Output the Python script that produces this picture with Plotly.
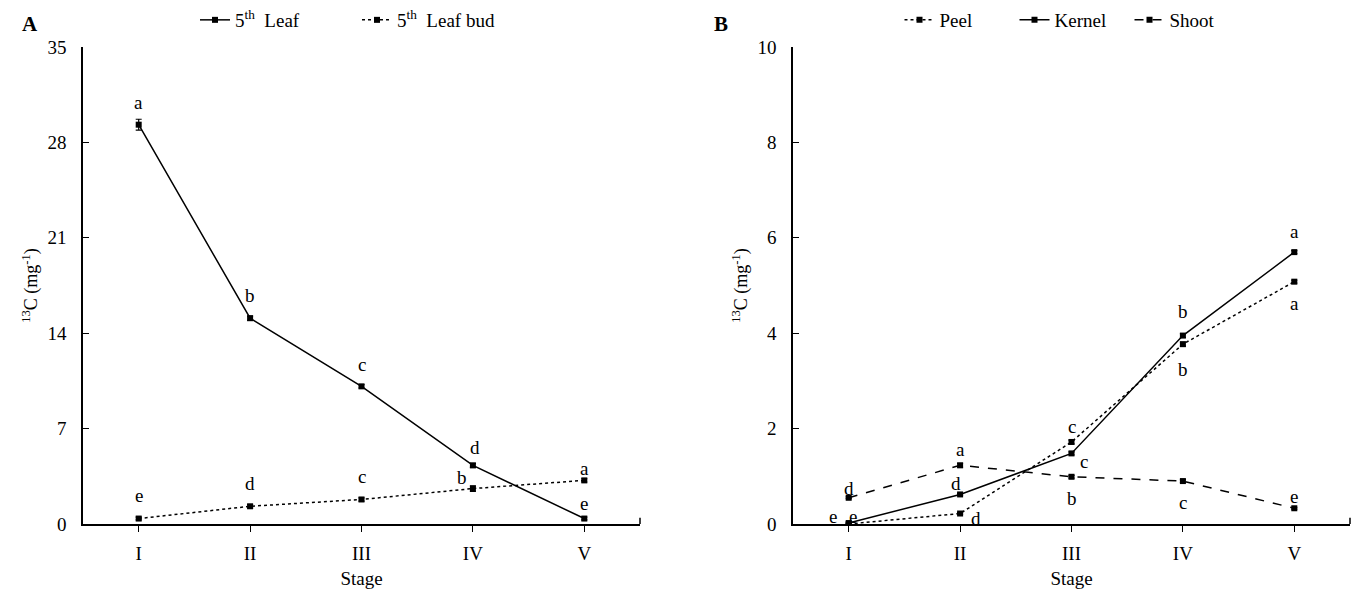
import plotly.graph_objects as go

stages = ["I", "II", "III", "IV", "V"]
xpos = [0, 1, 2, 3, 4]

# Panel A
leaf = [29.3, 15.1, 10.1, 4.3, 0.4]
leaf_err = [0.4, 0.15, 0.12, 0.15, 0.1]
leaf_letters = ["a", "b", "c", "d", "e"]
bud = [0.4, 1.3, 1.8, 2.6, 3.2]
bud_err = [0.1, 0.12, 0.12, 0.2, 0.12]
bud_letters = ["e", "d", "c", "b", "a"]

# Panel B
peel = [0.0, 0.22, 1.72, 3.77, 5.08]
peel_err = [0.01, 0.02, 0.04, 0.04, 0.03]
peel_letters = ["e", "d", "c", "b", "a"]
kernel = [0.02, 0.62, 1.48, 3.95, 5.70]
kernel_err = [0.01, 0.02, 0.03, 0.04, 0.03]
kernel_letters = ["e", "d", "c", "b", "a"]
shoot = [0.55, 1.23, 0.99, 0.90, 0.33]
shoot_err = [0.02, 0.04, 0.03, 0.03, 0.02]
shoot_letters = ["d", "a", "b", "c", "e"]

FONT = "Liberation Serif, Times New Roman, serif"
BLK = "black"

fig = go.Figure()

def add(y, err, name, dash, xa, ya, legend):
    fig.add_trace(go.Scatter(
        x=xpos, y=y, name=name, mode="lines+markers",
        line=dict(color=BLK, width=1.5, dash=dash),
        marker=dict(symbol="square", size=6, color=BLK),
        error_y=dict(type="data", array=err, visible=True, color=BLK, thickness=1.2, width=3),
        xaxis=xa, yaxis=ya, legend=legend))

add(leaf, leaf_err, "5<sup>th</sup>  Leaf", "solid", "x", "y", "legend")
add(bud, bud_err, "5<sup>th</sup>  Leaf bud", "dot", "x", "y", "legend")
add(peel, peel_err, "Peel", "dot", "x2", "y2", "legend2")
add(kernel, kernel_err, "Kernel", "solid", "x2", "y2", "legend2")
add(shoot, shoot_err, "Shoot", "dash", "x2", "y2", "legend2")

ann = []
def letters(vals, labs, shifts, xr, yr):
    for i, (v, t, s) in enumerate(zip(vals, labs, shifts)):
        ann.append(dict(x=xpos[i], y=v, text=t, xref=xr, yref=yr, showarrow=False,
                        xshift=s[0], yshift=s[1], font=dict(family=FONT, size=19, color=BLK)))

letters(leaf, leaf_letters, [(0, 22), (0, 23), (0, 22), (2, 18), (0, 15)], "x", "y")
letters(bud, bud_letters, [(0, 23), (0, 23), (0, 23), (-11, 11), (0, 12)], "x", "y")
letters(peel, peel_letters, [(-16, 8), (16, -5), (0, 15), (0, -25), (0, -22)], "x2", "y2")
letters(kernel, kernel_letters, [(4, 7), (-4, 11), (12, -8), (0, 24), (0, 21)], "x2", "y2")
letters(shoot, shoot_letters, [(0, 9), (0, 16), (0, -22), (0, -21), (0, 12)], "x2", "y2")

ann.append(dict(x=20 / 1364, y=1 - 10 / 591, xref="paper", yref="paper", text="<b>A</b>",
                showarrow=False, font=dict(family=FONT, size=21, color=BLK)))
ann.append(dict(x=721 / 1364, y=1 - 10 / 591, xref="paper", yref="paper", text="<b>B</b>",
                showarrow=False, font=dict(family=FONT, size=21, color=BLK)))

xdomA = [83 / 1364, 640 / 1364]
xdomB = [793 / 1364, 1350 / 1364]
ydom = [1 - 524 / 591, 1 - 47 / 591]

def xaxis(dom, anchor):
    return dict(domain=dom, anchor=anchor, range=[-0.5, 4.5], tickvals=xpos, ticktext=stages,
                showline=True, linecolor=BLK, linewidth=1.5, ticks="outside", ticklen=6,
                tickcolor=BLK, showgrid=False, zeroline=False, ticklabelstandoff=5,
                title=dict(text="Stage", font=dict(family=FONT, size=19, color=BLK), standoff=9),
                tickfont=dict(family=FONT, size=19, color=BLK))

def yaxis(rng, dtick, anchor):
    return dict(domain=ydom, anchor=anchor, range=rng, dtick=dtick, showline=True, linecolor=BLK,
                linewidth=1.5, ticks="inside", ticklen=6, tickcolor=BLK, showgrid=False,
                zeroline=False, ticklabelstandoff=11,
                title=dict(text="<sup>13</sup>C (mg<sup>-1</sup>)", font=dict(family=FONT, size=18, color=BLK), standoff=5),
                tickfont=dict(family=FONT, size=19, color=BLK))

leg = dict(orientation="h", xanchor="center", yanchor="middle", bgcolor="rgba(0,0,0,0)",
           font=dict(family=FONT, size=19, color=BLK), itemwidth=30, tracegroupgap=0)

# small upward end-tick at the right end of each x axis (axis decoration)
shapes = [dict(type="line", xref=f"{xa} domain", yref=f"{ya} domain", x0=1, x1=1, y0=0, y1=0.013,
               line=dict(color=BLK, width=1.5)) for xa, ya in (("x", "y"), ("x2", "y2"))]

fig.update_layout(
    width=1364, height=591, paper_bgcolor="white", plot_bgcolor="white",
    margin=dict(l=0, r=0, t=0, b=0, autoexpand=False),
    xaxis=xaxis(xdomA, "y"), yaxis=yaxis([0, 35], 7, "x"),
    xaxis2=xaxis(xdomB, "y2"), yaxis2=yaxis([0, 10], 2, "x2"),
    legend=dict(leg, x=357 / 1364, y=1 - 20 / 591, entrywidth=117),
    legend2=dict(leg, x=1072 / 1364, y=1 - 20 / 591, entrywidth=70),
    annotations=ann, shapes=shapes, font=dict(family=FONT, color=BLK),
)

fig.write_html("out.html", config={"displayModeBar": False},
               post_script="document.body.style.margin='0';")
